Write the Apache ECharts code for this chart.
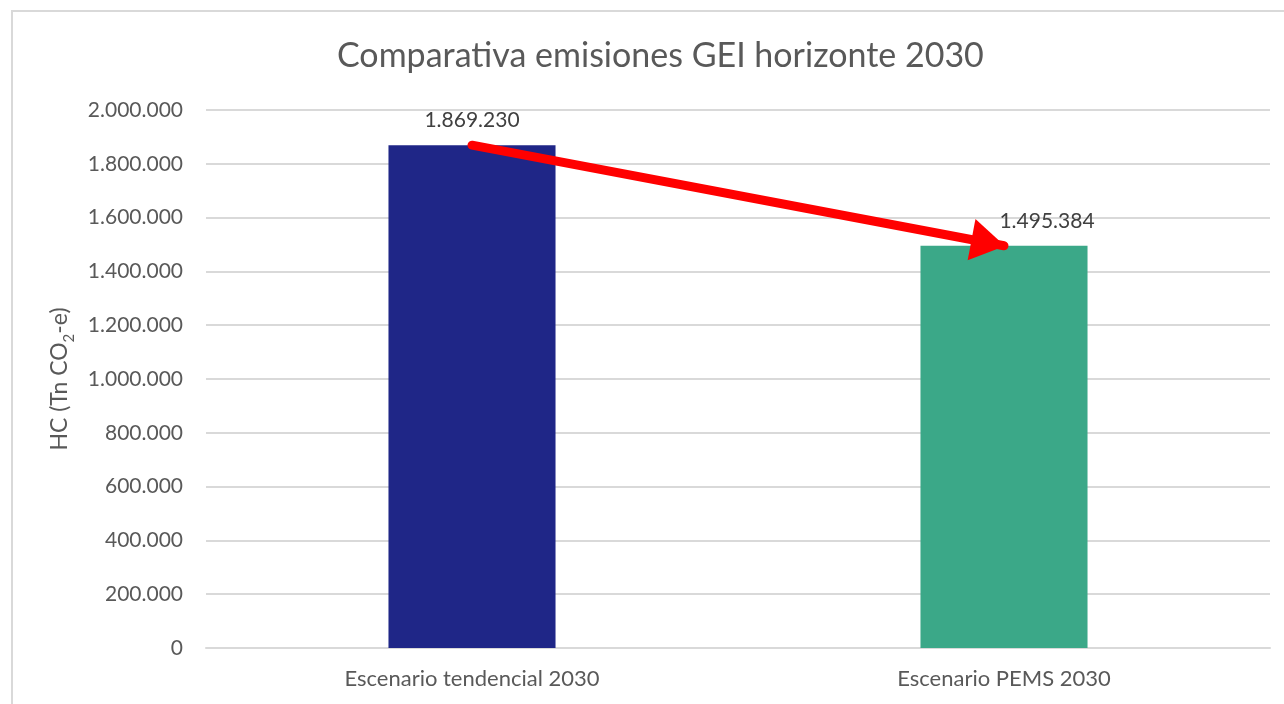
<!DOCTYPE html>
<html>
<head>
<meta charset="utf-8">
<script src="https://cdn.jsdelivr.net/npm/echarts@6/dist/echarts.min.js"></script>
<style>
  html, body { margin: 0; padding: 0; background: #fff; }
  #chart { width: 1284px; height: 704px; }
</style>
</head>
<body>
<div id="chart"></div>
<script>
const categories = ["Escenario tendencial 2030", "Escenario PEMS 2030"];
const emissions = [1869230, 1495384];
const barColors = ["#1F2687", "#3BA888"];
const yMax = 2000000;
const yStep = 200000;

const font = "Lato";
const textColor = "#595959";

// 1.869.230 style
function miles(v) {
  return String(v).replace(/\B(?=(\d{3})+(?!\d))/g, ".");
}

const chart = echarts.init(document.getElementById("chart"));

chart.setOption({
  backgroundColor: "#fff",
  animation: false,
  title: {
    text: "Comparativa emisiones GEI horizonte 2030",
    left: 332,
    top: 34,
    textStyle: {
      fontFamily: font,
      fontSize: 34,
      fontWeight: "normal",
      color: textColor,
    },
  },
  graphic: [
    {
      type: "rect",
      shape: { x: 12, y: 11, width: 1400, height: 900 },
      style: { fill: "none", stroke: "#D9D9D9", lineWidth: 2 },
      silent: true,
    },
  ],
  grid: {
    left: 206,
    right: 14,
    top: 110,
    bottom: 56,
  },
  xAxis: {
    type: "category",
    data: categories,
    axisTick: { show: false },
    axisLine: { lineStyle: { color: "#D9D9D9", width: 2 } },
    axisLabel: {
      margin: 20,
      fontFamily: font,
      fontSize: 22,
      color: textColor,
    },
  },
  yAxis: {
    type: "value",
    min: 0,
    max: yMax,
    interval: yStep,
    name: "HC (Tn CO{sub|2}-e)",
    nameLocation: "middle",
    nameGap: 132,
    nameTextStyle: {
      fontFamily: font,
      fontSize: 23,
      color: textColor,
      rich: {
        sub: {
          fontFamily: font,
          fontSize: 15,
          color: textColor,
          verticalAlign: "bottom",
          padding: [0, 0, -6, 0],
        },
      },
    },
    axisLine: { show: false },
    axisTick: { show: false },
    splitLine: { lineStyle: { color: "#D9D9D9", width: 2 } },
    axisLabel: {
      margin: 23,
      fontFamily: font,
      fontSize: 21,
      color: textColor,
      formatter: miles,
    },
  },
  series: [
    {
      type: "bar",
      barWidth: "31.4%",
      data: emissions.map((v, i) => ({
        value: v,
        itemStyle: { color: barColors[i] },
        label: i === 1 ? { offset: [43, 0] } : {},
      })),
      label: {
        show: true,
        position: "top",
        distance: 14,
        fontFamily: font,
        fontSize: 21,
        color: "#404040",
        formatter: (p) => miles(p.value),
      },
      markLine: {
        silent: true,
        symbol: ["none", "triangle"],
        symbolSize: [42, 34],
        symbolOffset: [0, [0, 16]],
        lineStyle: { color: "#FF0000", width: 9, type: "solid", cap: "round" },
        itemStyle: { color: "#FF0000" },
        label: { show: false },
        emphasis: { disabled: true },
        data: [
          [
            { coord: [0, emissions[0]] },
            { coord: [1, emissions[1]] },
          ],
        ],
      },
    },
  ],
});
</script>
</body>
</html>
